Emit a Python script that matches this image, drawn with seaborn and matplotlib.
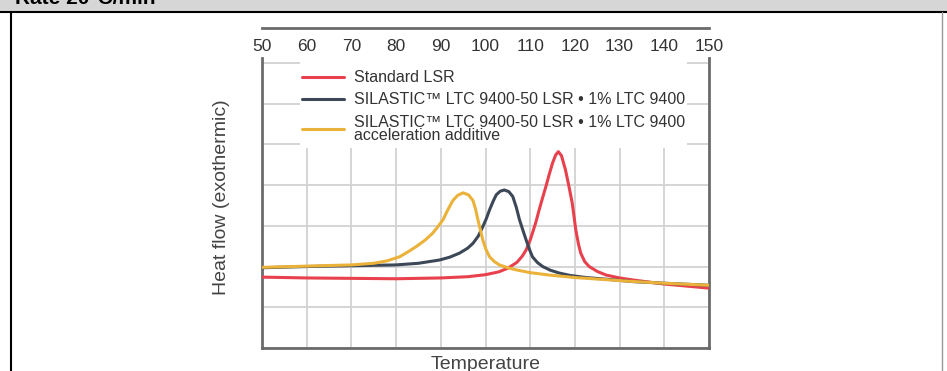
import matplotlib
matplotlib.use("Agg")
import matplotlib.pyplot as plt
from matplotlib.patches import Rectangle
from matplotlib.lines import Line2D
import seaborn as sns
import pandas as pd

# values (x = temperature, y = grid units 0..7)
red_t = [50, 60, 70, 80, 90, 96, 100, 103, 105, 107, 108.2, 109.1, 110, 110.5, 111.3,
         112, 112.8, 113.5, 114.3, 115, 115.7, 116.3, 117, 117.9, 118.7, 119.4, 120.2,
         120.8, 121.3, 122.2, 123.2, 125, 127, 130, 133, 140, 145, 150]
red_v = [1.74, 1.72, 1.71, 1.70, 1.72, 1.75, 1.80, 1.87, 1.96, 2.10, 2.25, 2.41, 2.65, 2.82, 3.10,
         3.39, 3.70, 3.96, 4.28, 4.54, 4.74, 4.82, 4.72, 4.37, 3.95, 3.56, 2.90,
         2.55, 2.33, 2.12, 2.00, 1.88, 1.79, 1.72, 1.67, 1.57, 1.52, 1.47]

navy_t = [50, 60, 70, 80, 85, 89.7, 92, 94.2, 96, 97.2, 98.4, 99.4, 100.2, 100.9, 101.7,
          102.4, 103.3, 104.2, 105.2, 106.1, 106.9, 107.6, 108.4, 109.1, 109.8, 110.5,
          111.6, 112.8, 114.5, 116.5, 119, 122.5, 128, 133, 140, 148, 150]
navy_v = [1.97, 2.00, 2.02, 2.04, 2.08, 2.16, 2.23, 2.33, 2.45, 2.57, 2.75, 2.98, 3.18, 3.39, 3.60,
          3.76, 3.85, 3.88, 3.84, 3.72, 3.45, 3.15, 2.88, 2.65, 2.43, 2.24,
          2.10, 2.00, 1.91, 1.84, 1.78, 1.73, 1.68, 1.63, 1.59, 1.55, 1.54]

gold_t = [50, 60, 70, 75, 78, 80.8, 82.5, 84.5, 86.5, 88.2, 89.5, 90.5, 91.6, 92.7, 93.8,
          95.0, 96.2, 97.2, 97.8, 98.3, 98.9, 99.4, 100.1, 100.9, 102, 103.1, 105, 106.8,
          110, 114.3, 120, 125.4, 132, 140, 150]
gold_v = [1.98, 2.01, 2.04, 2.08, 2.14, 2.24, 2.35, 2.49, 2.65, 2.82, 3.00, 3.15, 3.40, 3.62, 3.75,
          3.81, 3.76, 3.62, 3.40, 3.15, 2.88, 2.65, 2.42, 2.24, 2.12, 2.04, 1.97, 1.92,
          1.85, 1.79, 1.73, 1.69, 1.64, 1.59, 1.54]

labels = ["Standard LSR",
          "SILASTIC\u2122 LTC 9400-50 LSR \u2022 1% LTC 9400",
          "SILASTIC\u2122 LTC 9400-50 LSR \u2022 1% LTC 9400\nacceleration additive"]
colors = ["#e8414d", "#3c4857", "#ebb23a"]
x_ticks = list(range(50, 151, 10))

df = pd.concat([
    pd.DataFrame({"temp": red_t, "flow": red_v, "series": labels[0]}),
    pd.DataFrame({"temp": navy_t, "flow": navy_v, "series": labels[1]}),
    pd.DataFrame({"temp": gold_t, "flow": gold_v, "series": labels[2]}),
])

sns.set_style("white")
plt.rcParams['font.family'] = ['Liberation Sans', 'DejaVu Sans']

W, H = 947, 371
fig = plt.figure(figsize=(W / 100, H / 100), dpi=100)
fig.patch.set_facecolor("white")

# header bar + frame box
fig.patches.append(Rectangle((0, 1 - 11 / H), 1, 11 / H, transform=fig.transFigure,
                             facecolor="#d6d6d6", edgecolor="none", zorder=0))
fig.lines.append(Line2D([0, 1], [1 - 11.5 / H] * 2, transform=fig.transFigure, color="black", lw=1.5))
fig.lines.append(Line2D([10.5 / W] * 2, [0, 1 - 11.5 / H], transform=fig.transFigure, color="black", lw=1.5))
fig.lines.append(Line2D([942 / W] * 2, [0, 1 - 11.5 / H], transform=fig.transFigure, color="#999999", lw=1))
fig.text(15 / W, 1 - 3.5 / H, "Rate 20\u00b0C/min", fontsize=15, fontweight="bold",
         color="black", va="baseline", ha="left")

gray = "#6b6b6b"
ax = fig.add_axes([262 / W, 23 / H, 447 / W, 290 / H])
sns.lineplot(data=df, x="temp", y="flow", hue="series", palette=colors, hue_order=labels,
             estimator=None, sort=False, linewidth=2.2, ax=ax, zorder=3)
ax.set_xlim(50, 150)
ax.set_ylim(0, 7.12)
ax.set_xticks(x_ticks)
ax.set_yticks(range(0, 8))
ax.set_xticklabels([])
ax.set_yticklabels([])
ax.tick_params(length=0)
ax.grid(True, color="#d2d2d2", lw=1.3)
ax.set_axisbelow(True)
for s in ["left", "bottom", "right"]:
    ax.spines[s].set_color(gray)
    ax.spines[s].set_linewidth(2)
ax.spines["top"].set_visible(False)

ax.set_ylabel("Heat flow (exothermic)", fontsize=14, color="#444444")
ax.yaxis.set_label_coords(-0.072, 0.52)
ax.set_xlabel("Temperature", fontsize=14, color="#444444")
ax.xaxis.set_label_coords(0.5, -0.028)

# white patch behind the legend, hides the grid there
ax.add_patch(Rectangle((0.085, 0.69), 0.866, 0.31, transform=ax.transAxes,
                       facecolor="white", edgecolor="none", zorder=2))
handles, _ = ax.get_legend_handles_labels()
leg = ax.legend(handles, labels, loc="upper left", bbox_to_anchor=(0.09, 0.958),
                frameon=False, fontsize=11.5, handlelength=2.6, handletextpad=0.65,
                labelspacing=0.45, borderpad=0, borderaxespad=0)
for t in leg.get_texts():
    t.set_color("#333333")
    t.set_linespacing(0.9)
leg.set_zorder(4)

# temperature scale drawn above the plot (own axes, same limits)
top = fig.add_axes([262 / W, 1 - 28 / H, 447 / W, 0.0001])
top.set_xlim(50, 150)
top.set_xticks(x_ticks)
top.set_xticklabels([str(v) for v in x_ticks])
top.set_yticks([])
top.tick_params(axis="x", direction="out", length=5, width=1.5, color=gray,
                labelsize=12.5, labelcolor="#333333", pad=3)
for s in ["left", "right", "top"]:
    top.spines[s].set_visible(False)
top.spines["bottom"].set_color(gray)
top.spines["bottom"].set_linewidth(2)
top.patch.set_visible(False)

fig.savefig("out.png", dpi=100)
